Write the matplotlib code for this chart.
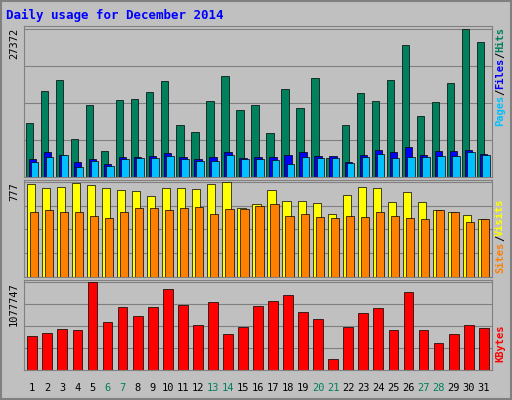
import matplotlib
matplotlib.use("Agg")
import matplotlib.pyplot as plt
import numpy as np

days = list(range(1, 32))
hits = [9938,15938,18000,6938,13313,4875,14250,14438,15750,17813,9563,8250,14063,18750,12375,13313,8063,16313,12750,18375,3563,9563,15563,14063,18000,24375,11250,13875,17438,27372,24938]
files = [3375,4688,4125,2813,3375,2438,3750,3750,3938,4500,3750,3375,3750,4688,3563,3750,3750,4125,4688,3938,3938,2813,4125,5063,4688,5625,4125,4875,4875,5063,4313]
pages = [2813,3750,4125,1875,3000,2063,3375,3563,3563,3938,3375,3000,3000,4125,3375,3375,3188,2438,3750,3563,3563,2625,3750,4313,3563,3750,3750,3938,3938,4688,4125]
visits = [760,725,734,768,751,725,708,699,665,725,725,716,760,777,561,596,708,622,622,604,518,673,734,725,613,691,613,544,527,509,475]
sites = [535,544,535,535,501,483,527,561,561,544,561,570,518,552,552,578,596,501,518,492,483,501,492,535,501,483,475,544,535,449,475]
kbytes = [410560,449050,500370,487540,1077747,590180,769800,654330,769800,987910,795460,551690,833950,436220,526030,782630,846780,910930,705650,628670,128300,526030,692820,756970,487540,949420,487540,333580,436220,551690,513200]
weekends = [6,7,13,14,20,21,27,28]

bg = "#c0c0c0"
fig = plt.figure(figsize=(5.12, 4.0), dpi=100, facecolor=bg)
x = np.array(days, dtype=float)
mono = "DejaVu Sans Mono"

def setup(ax, vmax):
    ax.set_facecolor(bg)
    ax.set_xlim(0.45, 31.55)
    ax.set_ylim(0, vmax * 1.02)
    ax.set_xticks([]); ax.set_yticks([])
    for q in (0.25, 0.5, 0.75, 1.0):
        ax.axhline(vmax * q, color="#808080", lw=0.8, zorder=0)
    for s in ax.spines.values():
        s.set_color("#808080")

ax1 = fig.add_axes([24/512, 1-177/400, 468/512, 151/400])
setup(ax1, max(hits))
ax1.bar(x - 0.2, hits, width=0.5, color="#00805c", edgecolor="black", lw=0.5, zorder=2)
ax1.bar(x + 0.0, files, width=0.5, color="#0000ff", edgecolor="black", lw=0.5, zorder=3)
ax1.bar(x + 0.15, pages, width=0.5, color="#00c0ff", edgecolor="black", lw=0.5, zorder=4)

ax2 = fig.add_axes([24/512, 1-277/400, 468/512, 97/400])
setup(ax2, max(visits))
ax2.bar(x - 0.1, visits, width=0.55, color="#ffff00", edgecolor="black", lw=0.5, zorder=2)
ax2.bar(x + 0.1, sites, width=0.55, color="#ff8000", edgecolor="black", lw=0.5, zorder=3)

ax3 = fig.add_axes([24/512, 1-370/400, 468/512, 90/400])
setup(ax3, max(kbytes))
ax3.bar(x, kbytes, width=0.65, color="#ff0000", edgecolor="black", lw=0.5, zorder=2)

fig.text(6/512, 1-15/400, "Daily usage for December 2014", color="#0000ff",
         family=mono, weight="bold", fontsize=9, va="center")
for ax, v in ((ax1, max(hits)), (ax2, max(visits)), (ax3, max(kbytes))):
    bb = ax.get_position()
    fig.text(14/512, bb.y1 - 0.005, str(v), rotation=90, ha="center", va="top",
             family=mono, fontsize=7.5, color="black")
for d in days:
    fig.text((24 + (d - 0.45) / 31.1 * 468) / 512, 1-388/400, str(d), ha="center", va="center",
             fontsize=7.5, family=mono, color="#00805c" if d in weekends else "black")

def vlabel(y_top, parts):
    y = y_top
    for t, c in parts:
        fig.text(500/512, y, t, rotation=90, ha="center", va="top", color=c,
                 family=mono, fontsize=7.5, weight="bold")
        y -= len(t) * 0.0155
vlabel(1-27/400, [("Hits", "#00805c"), ("/", "black"), ("Files", "#0000ff"), ("/", "black"), ("Pages", "#00c0ff")])
vlabel(1-198/400, [("Visits", "#ffff00"), ("/", "black"), ("Sites", "#ff8000")])
vlabel(1-325/400, [("KBytes", "#ff0000")])

# outer border
fig.patches.append(plt.Rectangle((0.002, 0.002), 0.996, 0.996, transform=fig.transFigure,
                                 fill=False, edgecolor="#808080", lw=1.5))
fig.savefig("out.png", dpi=100, facecolor=bg)
